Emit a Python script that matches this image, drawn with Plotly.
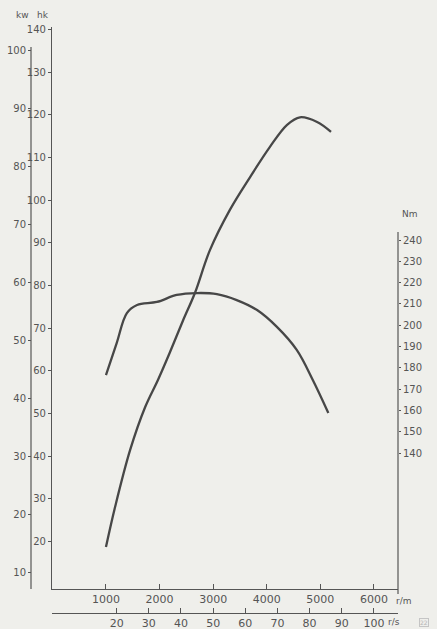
import plotly.graph_objects as go

# ---- data ----
power_rpm = [1000, 1170, 1450, 1730, 1970, 2190, 2440, 2660, 2940, 3310, 3690, 4060, 4380, 4620, 4940, 5200]
power_kw = [14.3, 21.2, 31.0, 38.4, 43.1, 47.8, 53.4, 58.1, 65.5, 72.4, 78.1, 83.3, 87.1, 88.4, 87.6, 85.9]

torque_rpm = [1000, 1200, 1390, 1580, 1950, 2320, 2700, 3070, 3440, 3820, 4190, 4560, 4860, 5150]
torque_nm = [176.6, 191.6, 205.7, 209.5, 210.9, 214.2, 215.1, 214.6, 211.8, 207.1, 199.2, 188.4, 174.3, 158.8]

rpm_ticks = [1000, 2000, 3000, 4000, 5000, 6000]
rps_ticks = [20, 30, 40, 50, 60, 70, 80, 90, 100]
kw_ticks = [10, 20, 30, 40, 50, 60, 70, 80, 90, 100]
hk_ticks = [20, 30, 40, 50, 60, 70, 80, 90, 100, 110, 120, 130, 140]
nm_ticks = [140, 150, 160, 170, 180, 190, 200, 210, 220, 230, 240]

# ---- styling ----
W, H = 437, 629
ML, MR, MT, MB = 20, 20, 10, 5
PW, PH = W - ML - MR, H - MT - MB

def px(x):
    return (x - ML) / PW

def py(y):
    return (H - MB - y) / PH

BG = "#efefeb"
INK = "#474747"
AX = "#555555"
FONT = "DejaVu Sans"
YTOP, YBOT = 27, 589

fig = go.Figure()
fig.add_trace(go.Scatter(x=power_rpm, y=power_kw, mode="lines", xaxis="x", yaxis="y3",
                         line=dict(color=INK, width=2.3, shape="spline"),
                         showlegend=False, hoverinfo="skip"))
fig.add_trace(go.Scatter(x=torque_rpm, y=torque_nm, mode="lines", xaxis="x", yaxis="y2",
                         line=dict(color=INK, width=2.3, shape="spline"),
                         showlegend=False, hoverinfo="skip"))
# empty traces so that the hk and r/s axes get drawn
fig.add_trace(go.Scatter(x=rpm_ticks, y=[None] * len(rpm_ticks), xaxis="x", yaxis="y",
                         mode="lines", showlegend=False, hoverinfo="skip"))
fig.add_trace(go.Scatter(x=rps_ticks, y=[None] * len(rps_ticks), xaxis="x2", yaxis="y",
                         mode="lines", showlegend=False, hoverinfo="skip"))

common = dict(showgrid=False, zeroline=False, linecolor=AX, linewidth=1.2, tickcolor=AX,
              automargin=False, tickfont=dict(family=FONT, size=10, color="#555"))
xfont = dict(family=FONT, size=11, color="#555")
xcommon = {k: v for k, v in common.items() if k != "tickfont"}

fig.update_layout(
    width=W, height=H,
    margin=dict(l=ML, r=MR, t=MT, b=MB, autoexpand=False),
    paper_bgcolor=BG, plot_bgcolor=BG,
    showlegend=False,
    xaxis=dict(domain=[px(52), px(398)], range=[-7, 6450], anchor="y", showline=True,
               tickvals=rpm_ticks, ticks="inside", ticklen=5, tickfont=xfont, **xcommon),
    xaxis2=dict(overlaying="x", anchor="free", position=py(613), range=[-7 / 60, 6450 / 60],
                side="bottom", showline=True, tickvals=rps_ticks, ticks="inside", ticklen=5,
                tickfont=xfont, **xcommon),
    yaxis=dict(domain=[py(YBOT), py(YTOP)], range=[(627 - YBOT) / 4.267, (627 - YTOP) / 4.267],
               anchor="x", showline=True, tickvals=hk_ticks, ticks="outside", ticklen=3, **common),
    yaxis3=dict(overlaying="y", range=[(630 - YBOT) / 5.8, (630 - YTOP) / 5.8],
                anchor="free", position=px(31), side="left", showline=False,
                tickvals=kw_ticks, ticks="outside", ticklen=3, **common),
    yaxis2=dict(overlaying="y", range=[140 - (YBOT - 453) / 2.13, 240 + (240 - YTOP) / 2.13],
                anchor="x", side="right", showline=False, tickvals=nm_ticks,
                ticks="outside", ticklen=2, **common),
)

# axis spines of the kW and Nm scales (shorter than the plot height)
fig.add_shape(type="line", xref="paper", yref="paper", x0=px(31), x1=px(31), y0=py(YBOT), y1=py(47),
              line=dict(color=AX, width=1.2))
fig.add_shape(type="line", xref="paper", yref="paper", x0=px(398), x1=px(398), y0=py(594), y1=py(232),
              line=dict(color=AX, width=1.2))

ann_font = dict(family=FONT, size=9, color="#555")
for txt, x, y in [("kw", 22, 15), ("hk", 43, 15), ("Nm", 410, 214), ("r/m", 404, 601), ("r/s", 394, 622)]:
    fig.add_annotation(text=txt, x=px(x), y=py(y), xref="paper", yref="paper",
                       showarrow=False, font=ann_font, xanchor="center", yanchor="middle")
fig.add_annotation(text="22", x=px(424), y=py(622), xref="paper", yref="paper", showarrow=False,
                   font=dict(family=FONT, size=6, color="#b5b5b5"), bordercolor="#c5c5c5",
                   borderwidth=1, borderpad=0, xanchor="center", yanchor="middle")

fig.write_html("out.html", config={"displayModeBar": False},
               post_script="document.body.style.margin='0';")
